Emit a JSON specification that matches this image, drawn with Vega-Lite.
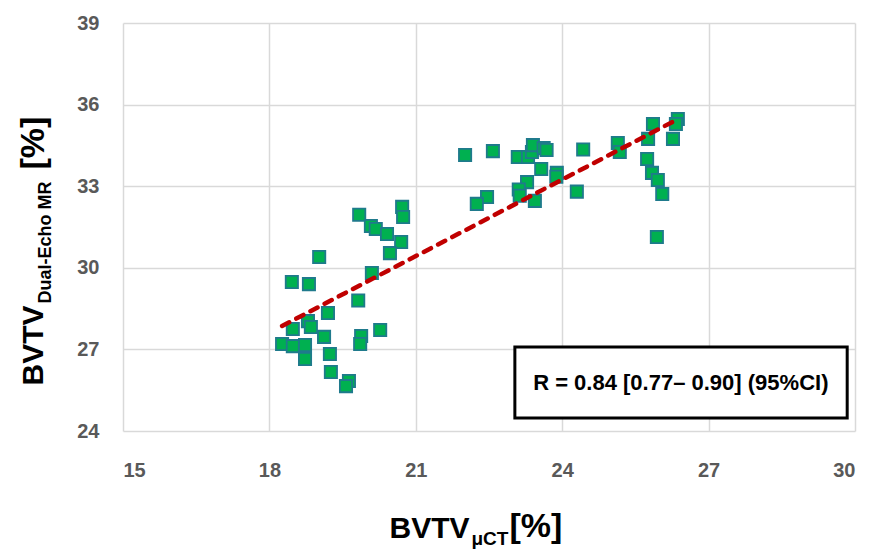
{
  "$schema": "https://vega.github.io/schema/vega-lite/v6.json",
  "width": 732,
  "height": 408,
  "autosize": {"type": "none"},
  "padding": {"left": 123, "top": 23, "right": 15, "bottom": 118},
  "background": "white",
  "config": {"view": {"stroke": null}},
  "datasets": {
    "points": [
      {"ct": 19.84, "mr": 31.95}, {"ct": 20.72, "mr": 32.24}, {"ct": 20.74, "mr": 31.87},
      {"ct": 20.08, "mr": 31.54}, {"ct": 20.18, "mr": 31.43}, {"ct": 20.41, "mr": 31.24},
      {"ct": 20.70, "mr": 30.95}, {"ct": 20.47, "mr": 30.54}, {"ct": 19.02, "mr": 30.40},
      {"ct": 20.10, "mr": 29.81}, {"ct": 18.46, "mr": 29.48}, {"ct": 18.81, "mr": 29.40},
      {"ct": 19.82, "mr": 28.80}, {"ct": 19.20, "mr": 28.34}, {"ct": 18.48, "mr": 27.75},
      {"ct": 18.79, "mr": 28.04}, {"ct": 18.85, "mr": 27.82}, {"ct": 18.26, "mr": 27.20},
      {"ct": 18.48, "mr": 27.12}, {"ct": 18.73, "mr": 27.16}, {"ct": 19.12, "mr": 27.46},
      {"ct": 19.88, "mr": 27.49}, {"ct": 19.86, "mr": 27.20}, {"ct": 20.27, "mr": 27.71},
      {"ct": 18.73, "mr": 26.65}, {"ct": 19.24, "mr": 26.83}, {"ct": 19.26, "mr": 26.17},
      {"ct": 19.63, "mr": 25.84}, {"ct": 19.57, "mr": 25.65},
      {"ct": 22.01, "mr": 34.15}, {"ct": 22.58, "mr": 34.29}, {"ct": 23.09, "mr": 34.07},
      {"ct": 23.30, "mr": 34.07}, {"ct": 23.38, "mr": 34.26}, {"ct": 23.40, "mr": 34.51},
      {"ct": 23.62, "mr": 34.40}, {"ct": 23.68, "mr": 34.33}, {"ct": 24.43, "mr": 34.35},
      {"ct": 23.57, "mr": 33.63}, {"ct": 23.89, "mr": 33.49}, {"ct": 23.88, "mr": 33.35},
      {"ct": 23.28, "mr": 33.15}, {"ct": 23.11, "mr": 32.88}, {"ct": 23.13, "mr": 32.65},
      {"ct": 23.44, "mr": 32.46}, {"ct": 22.46, "mr": 32.60}, {"ct": 22.25, "mr": 32.35},
      {"ct": 24.30, "mr": 32.80}, {"ct": 25.14, "mr": 34.59}, {"ct": 25.18, "mr": 34.26},
      {"ct": 25.86, "mr": 35.29}, {"ct": 25.76, "mr": 34.74}, {"ct": 26.37, "mr": 35.47},
      {"ct": 26.33, "mr": 35.29}, {"ct": 26.27, "mr": 34.74}, {"ct": 25.74, "mr": 34.00},
      {"ct": 25.84, "mr": 33.49}, {"ct": 25.96, "mr": 33.23}, {"ct": 26.05, "mr": 32.71},
      {"ct": 25.94, "mr": 31.13}
    ],
    "trend": [
      {"ct": 18.26, "mr": 27.86},
      {"ct": 26.31, "mr": 35.41}
    ],
    "note": [
      {"x1": 23.03, "x2": 29.84, "y1": 24.48, "y2": 27.09, "xc": 26.43, "yc": 25.76, "label": "R = 0.84 [0.77– 0.90] (95%CI)"}
    ]
  },
  "layer": [
    {
      "data": {"name": "points"},
      "mark": {"type": "point", "shape": "square", "filled": true, "size": 150, "fill": "#00B050", "stroke": "#1F7A8C", "strokeWidth": 1.8, "opacity": 1},
      "encoding": {
        "x": {
          "field": "ct", "type": "quantitative",
          "scale": {"domain": [15, 30], "nice": false, "zero": false},
          "axis": {
            "orient": "bottom", "values": [15, 18, 21, 24, 27, 30],
            "grid": true, "gridColor": "#D9D9D9", "gridWidth": 1.5,
            "domain": false, "ticks": false, "tickSize": 0,
            "labelPadding": 29, "labelFont": "Liberation Sans", "labelFontWeight": "bold", "labelFontSize": 20, "labelColor": "#595959",
            "title": "BVTV", "titleFont": "Liberation Sans", "titleFontWeight": "bold", "titleFontSize": 30, "titleColor": "#000000",
            "titleAlign": "left", "titleBaseline": "alphabetic", "titleAngle": 0, "titleX": 266, "titleY": 106
          }
        },
        "y": {
          "field": "mr", "type": "quantitative",
          "scale": {"domain": [24, 39], "nice": false, "zero": false},
          "axis": {
            "orient": "left", "values": [24, 27, 30, 33, 36, 39],
            "grid": true, "gridColor": "#D9D9D9", "gridWidth": 1.5,
            "domain": false, "ticks": false, "tickSize": 0,
            "labelPadding": 24, "labelFont": "Liberation Sans", "labelFontWeight": "bold", "labelFontSize": 20, "labelColor": "#595959",
            "title": "BVTV", "titleFont": "Liberation Sans", "titleFontWeight": "bold", "titleFontSize": 30, "titleColor": "#000000",
            "titleAlign": "left", "titleBaseline": "alphabetic", "titleAngle": 270, "titleX": -81, "titleY": 362
          }
        }
      }
    },
    {
      "data": {"name": "trend"},
      "mark": {"type": "line", "color": "#C00000", "strokeWidth": 4.5, "strokeDash": [8, 8], "strokeCap": "round"},
      "encoding": {
        "x": {
          "field": "ct", "type": "quantitative",
          "scale": {"domain": [15, 30], "nice": false, "zero": false},
          "axis": {
            "orient": "bottom", "grid": false, "domain": false, "ticks": false, "labels": false,
            "title": "μCT", "titleFont": "Liberation Sans", "titleFontWeight": "bold", "titleFontSize": 19, "titleColor": "#000000",
            "titleAlign": "left", "titleBaseline": "alphabetic", "titleAngle": 0, "titleX": 348, "titleY": 113
          }
        },
        "y": {
          "field": "mr", "type": "quantitative",
          "scale": {"domain": [24, 39], "nice": false, "zero": false},
          "axis": {
            "orient": "left", "grid": false, "domain": false, "ticks": false, "labels": false,
            "title": "Dual-Echo MR", "titleFont": "Liberation Sans", "titleFontWeight": "bold", "titleFontSize": 18, "titleColor": "#000000",
            "titleAlign": "left", "titleBaseline": "alphabetic", "titleAngle": 270, "titleX": -73, "titleY": 280
          }
        }
      }
    },
    {
      "data": {"name": "note"},
      "mark": {"type": "rect", "fill": "white", "stroke": "black", "strokeWidth": 3},
      "encoding": {
        "x": {
          "field": "x1", "type": "quantitative",
          "scale": {"domain": [15, 30], "nice": false, "zero": false},
          "axis": {
            "orient": "bottom", "grid": false, "domain": false, "ticks": false, "labels": false,
            "title": "[%]", "titleFont": "Liberation Sans", "titleFontWeight": "bold", "titleFontSize": 34, "titleColor": "#000000",
            "titleAlign": "left", "titleBaseline": "alphabetic", "titleAngle": 0, "titleX": 386, "titleY": 105
          }
        },
        "x2": {"field": "x2"},
        "y": {
          "field": "y1", "type": "quantitative",
          "scale": {"domain": [24, 39], "nice": false, "zero": false},
          "axis": {
            "orient": "left", "grid": false, "domain": false, "ticks": false, "labels": false,
            "title": "[%]", "titleFont": "Liberation Sans", "titleFontWeight": "bold", "titleFontSize": 34, "titleColor": "#000000",
            "titleAlign": "left", "titleBaseline": "alphabetic", "titleAngle": 270, "titleX": -80, "titleY": 146
          }
        },
        "y2": {"field": "y2"}
      }
    },
    {
      "data": {"name": "note"},
      "mark": {"type": "text", "font": "Liberation Sans", "fontWeight": "bold", "fontSize": 22, "color": "#000000", "align": "center", "baseline": "middle"},
      "encoding": {
        "x": {"field": "xc", "type": "quantitative", "scale": {"domain": [15, 30], "nice": false, "zero": false}, "axis": null},
        "y": {"field": "yc", "type": "quantitative", "scale": {"domain": [24, 39], "nice": false, "zero": false}, "axis": null},
        "text": {"field": "label"}
      }
    }
  ],
  "resolve": {"scale": {"x": "independent", "y": "independent"}, "axis": {"x": "independent", "y": "independent"}}
}
